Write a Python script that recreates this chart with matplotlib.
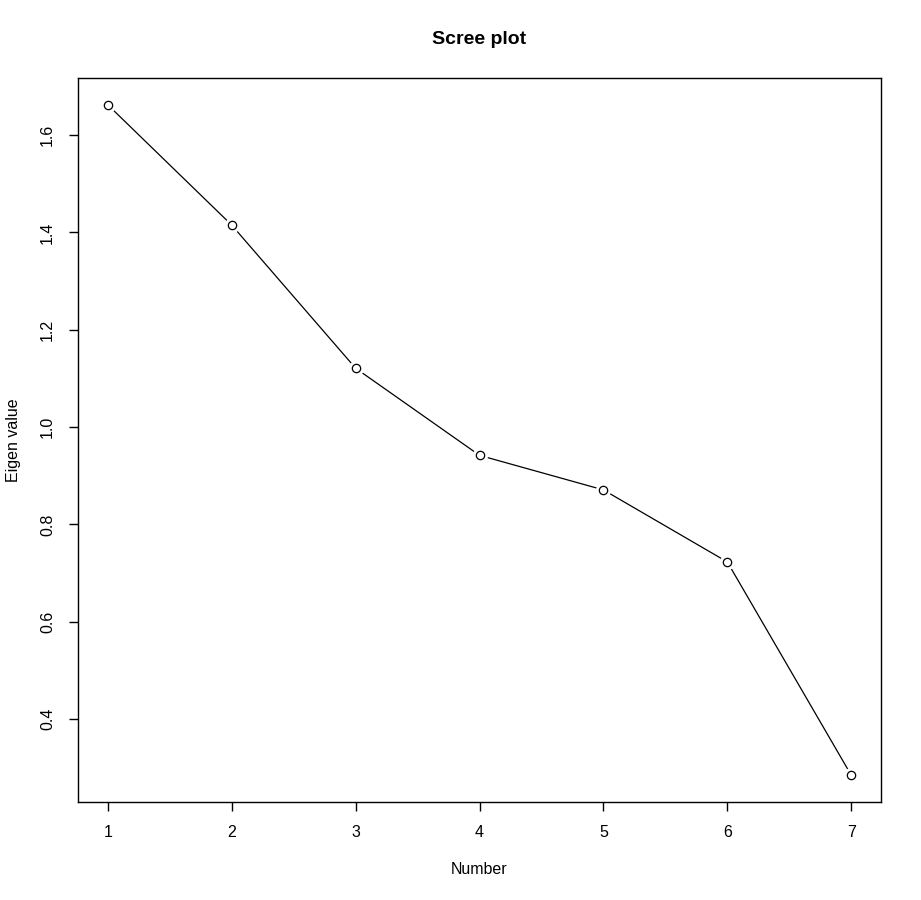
import matplotlib
matplotlib.use('Agg')
import matplotlib.pyplot as plt

plt.rcParams['font.family'] = ['Liberation Sans', 'DejaVu Sans']

numbers = [1, 2, 3, 4, 5, 6, 7]
eigen_values = [1.662, 1.415, 1.121, 0.942, 0.871, 0.723, 0.285]
x_ticks = [1, 2, 3, 4, 5, 6, 7]
y_ticks = [0.4, 0.6, 0.8, 1.0, 1.2, 1.4, 1.6]

fig = plt.figure(figsize=(9.21, 9.0), dpi=100)
ax = fig.add_axes([78 / 921, 1 - 802 / 900, 803 / 921, 724 / 900])

# type="b" look: line, white gap around points, open circles
ax.plot(numbers, eigen_values, color='black', linewidth=0.9, zorder=1)
ax.plot(numbers, eigen_values, linestyle='none', marker='o', markersize=11,
        markerfacecolor='white', markeredgecolor='none', zorder=2)
ax.plot(numbers, eigen_values, linestyle='none', marker='o', markersize=6,
        markerfacecolor='white', markeredgecolor='black', markeredgewidth=0.9, zorder=3)

ax.set_xlim(0.76, 7.24)
ax.set_ylim(0.23, 1.717)
ax.set_xticks(x_ticks)
ax.set_yticks(y_ticks)
ax.set_yticklabels([f'{v:.1f}' for v in y_ticks], rotation=90, va='center')
ax.tick_params(direction='out', length=6.5, width=1, labelsize=11.5, pad=10)
for s in ax.spines.values():
    s.set_linewidth(1)

fig.text(0.5 * (78 + 881) / 921, 1 - 40 / 900, 'Scree plot', fontsize=14,
         fontweight='bold', ha='center', va='center')
ax.set_xlabel('Number', fontsize=11.5)
ax.xaxis.set_label_coords(0.5, (802 - 870) / 724)
ax.xaxis.label.set_va('center')
ax.set_ylabel('Eigen value', fontsize=11.5)
ax.yaxis.set_label_coords((14 - 78) / 803, 0.5)
ax.yaxis.label.set_va('center')

plt.savefig('out.png', dpi=100)
